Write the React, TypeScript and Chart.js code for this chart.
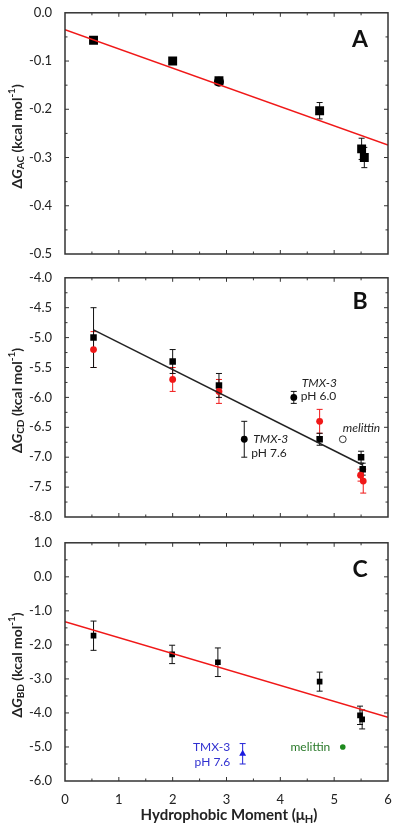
import React, { useEffect, useRef } from "react";
import { Chart, registerables } from "chart.js";
Chart.register(...registerables);

const FONT = "Lato, 'DejaVu Sans', sans-serif";
const AXIS = "#333333";
const TXT = "#222222";

// ---------- Panel A : dG_AC ----------
const muA = [0.53, 2.0, 2.86, 4.73, 5.51, 5.56];
const dGAC = [-0.057, -0.1, -0.141, -0.203, -0.282, -0.3];
const dGACErr = [0.004, 0.004, 0.005, 0.017, 0.022, 0.021];
const muAcirc = [2.86];
const dGACcirc = [-0.143];
const fitAX = [0, 6];
const fitAY = [-0.035, -0.274];

// ---------- Panel B : dG_CD ----------
const muB = [0.53, 2.0, 2.86, 4.73, 5.5, 5.53];
const dGCDsq = [-5.0, -5.4, -5.8, -6.7, -7.0, -7.2];
const dGCDsqErr = [0.5, 0.2, 0.2, 0.1, 0.1, 0.1];
const muBred = [0.53, 2.0, 2.86, 4.73, 5.49, 5.54];
const dGCDred = [-5.2, -5.7, -5.9, -6.4, -7.3, -7.4];
const dGCDredErr = [0.3, 0.2, 0.2, 0.2, 0.1, 0.2];
const muTMX = [3.33, 4.25];
const dGCDtmx = [-6.7, -6.0];
const dGCDtmxErr = [0.3, 0.1];
const muMelB = [5.16];
const dGCDmel = [-6.7];
const fitBX = [0.53, 5.53];
const fitBY = [-4.87, -7.13];

// ---------- Panel C : dG_BD ----------
const muC = [0.53, 1.99, 2.84, 4.73, 5.48, 5.52];
const dGBD = [-1.73, -2.28, -2.51, -3.08, -4.07, -4.19];
const dGBDErr = [0.43, 0.27, 0.42, 0.28, 0.27, 0.28];
const muTMXc = [3.3];
const dGBDtmx = [-5.2];
const dGBDtmxErr = [0.3];
const muMelC = [5.16];
const dGBDmel = [-5.0];
const fitCX = [0, 6];
const fitCY = [-1.32, -4.13];

// axis ranges / ticks
const xRange = { min: 0, max: 6, major: 1, minor: 0.5 };
const xTickLabels = ["0", "1", "2", "3", "4", "5", "6"];
const yRangeA = { min: -0.5, max: 0, major: 0.1, minor: 0.05, dec: 1 };
const yRangeB = { min: -8, max: -4, major: 0.5, minor: 0.25, dec: 1 };
const yRangeC = { min: -6, max: 1, major: 1, minor: 0.5, dec: 1 };

const pts = (xs: number[], ys: number[]) => xs.map((x, i) => ({ x, y: ys[i] }));

type Piece = { t: string; italic?: boolean; sub?: boolean; sup?: boolean };
type Ann = { text: string; ax: number; ay: number; dx: number; dy: number; align: CanvasTextAlign; italic?: boolean; color: string; size: number };
type EB = { x: number[]; y: number[]; err: number[]; color: string };

function drawRich(ctx: CanvasRenderingContext2D, pieces: Piece[], size: number, cx: number, cy: number, rotate: boolean) {
  const fontFor = (p: Piece) => {
    const s = p.sub || p.sup ? Math.round(size * 0.7) : size;
    return `${p.italic ? "italic " : ""}bold ${s}px ${FONT}`;
  };
  let total = 0;
  const widths = pieces.map((p) => {
    ctx.font = fontFor(p);
    const w = ctx.measureText(p.t).width;
    total += w;
    return w;
  });
  ctx.save();
  ctx.translate(cx, cy);
  if (rotate) ctx.rotate(-Math.PI / 2);
  ctx.fillStyle = TXT;
  ctx.textBaseline = "middle";
  ctx.textAlign = "left";
  let xx = -total / 2;
  pieces.forEach((p, i) => {
    ctx.font = fontFor(p);
    const off = p.sub ? size * 0.3 : p.sup ? -size * 0.35 : 0;
    ctx.fillText(p.t, xx, off);
    xx += widths[i];
  });
  ctx.restore();
}

function makePlugin(cfg: any) {
  return {
    id: "panelDeco" + cfg.letter,
    beforeDatasetsDraw(chart: any) {
      const { ctx, scales } = chart;
      const x = scales.x, y = scales.y;
      (cfg.errorBars as EB[]).forEach((eb) => {
        ctx.save();
        ctx.strokeStyle = eb.color;
        ctx.lineWidth = 1;
        eb.x.forEach((xv, i) => {
          const px = x.getPixelForValue(xv);
          const y1 = y.getPixelForValue(eb.y[i] + eb.err[i]);
          const y2 = y.getPixelForValue(eb.y[i] - eb.err[i]);
          ctx.beginPath();
          ctx.moveTo(px, y1);
          ctx.lineTo(px, y2);
          ctx.moveTo(px - 3, y1);
          ctx.lineTo(px + 3, y1);
          ctx.moveTo(px - 3, y2);
          ctx.lineTo(px + 3, y2);
          ctx.stroke();
        });
        ctx.restore();
      });
    },
    afterDraw(chart: any) {
      const { ctx, chartArea: ca, scales } = chart;
      const x = scales.x, y = scales.y;
      ctx.save();
      ctx.strokeStyle = AXIS;
      ctx.lineWidth = 1.5;
      ctx.strokeRect(ca.left, ca.top, ca.right - ca.left, ca.bottom - ca.top);
      ctx.lineWidth = 1;
      ctx.beginPath();
      const nx = Math.round((xRange.max - xRange.min) / xRange.minor);
      const kx = Math.round(xRange.major / xRange.minor);
      for (let i = 1; i < nx; i++) {
        const v = xRange.min + i * xRange.minor;
        const L = i % kx === 0 ? 4 : 2.5;
        const px = x.getPixelForValue(v);
        ctx.moveTo(px, ca.bottom);
        ctx.lineTo(px, ca.bottom - L);
        ctx.moveTo(px, ca.top);
        ctx.lineTo(px, ca.top + L);
      }
      const yr = cfg.yRange;
      const ny = Math.round((yr.max - yr.min) / yr.minor);
      const ky = Math.round(yr.major / yr.minor);
      for (let i = 1; i < ny; i++) {
        const v = yr.min + i * yr.minor;
        const L = i % ky === 0 ? 4 : 2.5;
        const py = y.getPixelForValue(v);
        ctx.moveTo(ca.left, py);
        ctx.lineTo(ca.left + L, py);
        ctx.moveTo(ca.right, py);
        ctx.lineTo(ca.right - L, py);
      }
      ctx.stroke();

      // panel letter
      ctx.fillStyle = "#111";
      ctx.font = `bold 23px ${FONT}`;
      ctx.textAlign = "center";
      ctx.textBaseline = "middle";
      ctx.fillText(cfg.letter, 360, ca.top + cfg.letterDy);

      // annotations
      (cfg.annotations as Ann[]).forEach((a) => {
        ctx.font = `${a.italic ? "italic " : ""}${a.size}px ${FONT}`;
        ctx.fillStyle = a.color;
        ctx.textAlign = a.align;
        ctx.textBaseline = "middle";
        ctx.fillText(a.text, x.getPixelForValue(a.ax) + a.dx, y.getPixelForValue(a.ay) + a.dy);
      });
      ctx.restore();

      // y title
      drawRich(ctx, cfg.yTitle, 14, 17, (ca.top + ca.bottom) / 2 + 3, true);
      if (cfg.xTitle) {
        drawRich(ctx, cfg.xTitle, 15, 229, ca.bottom + 34, false);
      }
    },
  };
}

function Panel({ cfg }: { cfg: any }) {
  const ref = useRef<HTMLCanvasElement>(null);
  useEffect(() => {
    const showX = !!cfg.xTitle;
    const yr = cfg.yRange;
    const chart = new Chart(ref.current as HTMLCanvasElement, {
      type: "scatter",
      data: { datasets: cfg.datasets },
      plugins: [makePlugin(cfg)],
      options: {
        animation: false,
        responsive: false,
        devicePixelRatio: 1,
        layout: { padding: { top: cfg.padTop, bottom: showX ? 0 : cfg.padBottom, left: 0, right: 12 } },
        plugins: { legend: { display: false }, tooltip: { enabled: false } },
        scales: {
          x: {
            type: "linear",
            min: xRange.min,
            max: xRange.max,
            display: showX,
            grid: { display: false },
            border: { display: false },
            ticks: {
              stepSize: xRange.major,
              padding: 3,
              color: TXT,
              font: { family: FONT, size: 13 },
              callback: (v: any) => {
                const i = Math.round((Number(v) - xRange.min) / xRange.major);
                return xTickLabels[i] ?? "";
              },
            },
            afterFit: (s: any) => {
              s.height = showX ? 48 : 0;
            },
          },
          y: {
            type: "linear",
            min: yr.min,
            max: yr.max,
            grid: { display: false },
            border: { display: false },
            ticks: {
              stepSize: yr.major,
              padding: 5,
              color: TXT,
              font: { family: FONT, size: 13 },
              callback: (v: any) => Number(v).toFixed(yr.dec),
            },
            afterFit: (s: any) => {
              s.width = 65;
            },
          },
        },
      } as any,
    });
    return () => chart.destroy();
  }, []);
  return (
    <canvas
      ref={ref}
      width={400}
      height={cfg.height}
      style={{ position: "absolute", left: 0, top: cfg.top, width: 400, height: cfg.height }}
    />
  );
}

const RED = "#f01818";
const sq = (data: any, r: number) => ({ data, pointStyle: "rect", pointRadius: r, backgroundColor: "#000", borderWidth: 0, showLine: false });
const circ = (data: any, r: number, color: string) => ({ data, pointStyle: "circle", pointRadius: r, backgroundColor: color, borderWidth: 0, showLine: false });
const fit = (data: any, color: string) => ({ data, showLine: true, borderColor: color, borderWidth: 1.5, pointRadius: 0, fill: false });

const panelA = {
  letter: "A",
  letterDy: 27,
  top: 0,
  height: 270,
  padTop: 11,
  padBottom: 16,
  yRange: yRangeA,
  yTitle: [{ t: "Δ" }, { t: "G", italic: true }, { t: "AC", sub: true }, { t: " (kcal mol" }, { t: "-1", sup: true }, { t: ")" }],
  errorBars: [{ x: muA, y: dGAC, err: dGACErr, color: "#111" }],
  annotations: [],
  datasets: [fit(pts(fitAX, fitAY), RED), circ(pts(muAcirc, dGACcirc), 5, "#000"), sq(pts(muA, dGAC), 6.3)],
};

const panelB = {
  letter: "B",
  letterDy: 24,
  top: 265,
  height: 265,
  padTop: 11,
  padBottom: 13,
  yRange: yRangeB,
  yTitle: [{ t: "Δ" }, { t: "G", italic: true }, { t: "CD", sub: true }, { t: " (kcal mol" }, { t: "-1", sup: true }, { t: ")" }],
  errorBars: [
    { x: muBred, y: dGCDred, err: dGCDredErr, color: RED },
    { x: muB, y: dGCDsq, err: dGCDsqErr, color: "#111" },
    { x: muTMX, y: dGCDtmx, err: dGCDtmxErr, color: "#111" },
  ],
  annotations: [
    { text: "TMX-3", ax: muTMX[1], ay: dGCDtmx[1], dx: 8, dy: -14, align: "left", italic: true, color: TXT, size: 12 },
    { text: "pH 6.0", ax: muTMX[1], ay: dGCDtmx[1], dx: 7, dy: -1, align: "left", color: TXT, size: 12 },
    { text: "TMX-3", ax: muTMX[0], ay: dGCDtmx[0], dx: 9, dy: 0, align: "left", italic: true, color: TXT, size: 12 },
    { text: "pH 7.6", ax: muTMX[0], ay: dGCDtmx[0], dx: 7, dy: 14, align: "left", color: TXT, size: 12 },
    { text: "melittin", ax: muMelB[0], ay: dGCDmel[0], dx: 0, dy: -11, align: "left", italic: true, color: TXT, size: 12 },
  ],
  datasets: [
    fit(pts(fitBX, fitBY), "#222"),
    circ(pts(muBred, dGCDred), 3.4, RED),
    sq(pts(muB, dGCDsq), 4.6),
    circ(pts(muTMX, dGCDtmx), 3.4, "#000"),
    { data: pts(muMelB, dGCDmel), pointStyle: "circle", pointRadius: 3.4, backgroundColor: "#fff", borderColor: "#333", borderWidth: 1, showLine: false },
  ],
};

const panelC = {
  letter: "C",
  letterDy: 27,
  top: 530,
  height: 299,
  padTop: 10,
  padBottom: 0,
  yRange: yRangeC,
  yTitle: [{ t: "Δ" }, { t: "G", italic: true }, { t: "BD", sub: true }, { t: " (kcal mol" }, { t: "-1", sup: true }, { t: ")" }],
  xTitle: [{ t: "Hydrophobic Moment (μ" }, { t: "H", sub: true }, { t: ")" }],
  errorBars: [
    { x: muC, y: dGBD, err: dGBDErr, color: "#111" },
    { x: muTMXc, y: dGBDtmx, err: dGBDtmxErr, color: "#2424d8" },
  ],
  annotations: [
    { text: "TMX-3", ax: muTMXc[0], ay: dGBDtmx[0], dx: -12.5, dy: -7, align: "right", color: "#3030d0", size: 12 },
    { text: "pH 7.6", ax: muTMXc[0], ay: dGBDtmx[0], dx: -12.5, dy: 8, align: "right", color: "#3030d0", size: 12 },
    { text: "melittin", ax: muMelC[0], ay: dGBDmel[0], dx: -12.5, dy: 0, align: "right", color: "#2a7a2a", size: 12 },
  ],
  datasets: [
    fit(pts(fitCX, fitCY), RED),
    sq(pts(muC, dGBD), 4),
    { data: pts(muTMXc, dGBDtmx), pointStyle: "triangle", pointRadius: 4, backgroundColor: "#1a1ae0", borderWidth: 0, showLine: false },
    circ(pts(muMelC, dGBDmel), 2.8, "#1e8a1e"),
  ],
};

export default function App() {
  return (
    <div style={{ position: "fixed", left: 0, top: 0, width: 400, height: 829, background: "#fff" }}>
      <Panel cfg={panelA} />
      <Panel cfg={panelB} />
      <Panel cfg={panelC} />
    </div>
  );
}
